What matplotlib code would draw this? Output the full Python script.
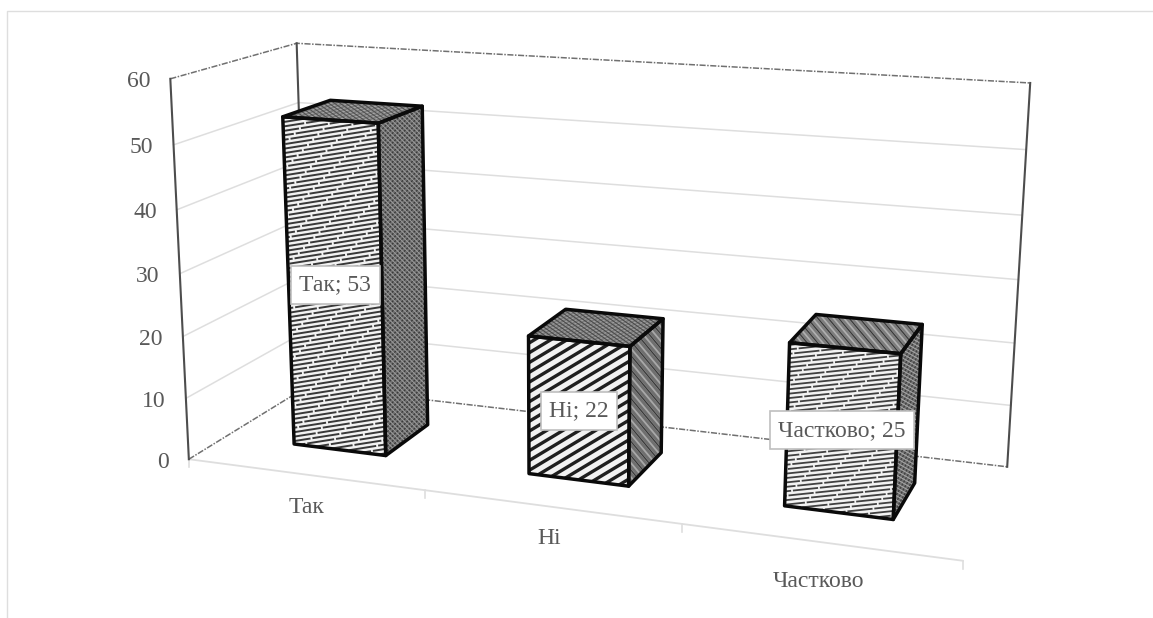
import numpy as np
import matplotlib
matplotlib.use("Agg")
import matplotlib.pyplot as plt
from matplotlib.patches import Polygon
from matplotlib.collections import LineCollection

plt.rcParams['font.family'] = ['Liberation Serif', 'DejaVu Serif']

categories = ['Так', 'Ні', 'Частково']
values = [53, 22, 25]
z_ticks = [0, 10, 20, 30, 40, 50, 60]
z_max = 60

GRID = '#dedede'
EDGE = '#4d4d4d'
TEXT = '#595959'
BAR_WIDTH = 0.4   # share of a category slot
BAR_DEPTH = 0.4   # share of the floor depth

# calibration of the box: (x, depth, height) -> pixel
box_world = [(0, 0, 0), (1/3, 0, 0), (2/3, 0, 0), (1, 0, 0), (0, 1, 0), (1, 1, 0),
             (0, 0, 1), (0, 1, 1), (1, 1, 1)]
box_pixel = [(190, 458), (426, 490), (681, 525), (962, 562), (306, 387), (1008, 465),
             (169, 78), (298, 44), (1030, 83)]
# how far each category name hangs below the floor line
label_drop = [33, 32, 40]
label_shift = [2, -1, 0]


def fit_camera(world, pixel):
    rows = []
    for (X, Y, Z), (px, py) in zip(world, pixel):
        rows.append([X, Y, Z, 1, 0, 0, 0, 0, -px*X, -px*Y, -px*Z, -px])
        rows.append([0, 0, 0, 0, X, Y, Z, 1, -py*X, -py*Y, -py*Z, -py])
    return np.linalg.svd(np.array(rows))[2][-1].reshape(3, 4)


cam = fit_camera(box_world, box_pixel)


def proj(x, d, z):
    p = cam @ np.array([x, d, z / z_max, 1.0])
    return p[0] / p[2], p[1] / p[2]


def hatch_face(ax, poly, angle, spacing, lw, color, zorder, dash=None):
    # straight hatch lines clipped to one bar face, dashes staggered line by line
    pts = np.array(poly)
    c = pts.mean(axis=0)
    r = np.ptp(pts, axis=0).sum()
    a = np.radians(angle)
    along = np.array([np.cos(a), -np.sin(a)])
    across = np.array([np.sin(a), np.cos(a)])
    offsets = np.arange(-r, r, spacing)
    segs = [[c + across*t - along*r, c + across*t + along*r] for t in offsets]
    if dash:
        styles = [(k * 2.7 % sum(dash), dash) for k in range(len(offsets))]
    else:
        styles = 'solid'
    lc = LineCollection(segs, colors=color, linewidths=lw, linestyles=styles, zorder=zorder)
    ax.add_collection(lc)
    clip = Polygon(poly, closed=True, transform=ax.transData, fc='none', ec='none')
    ax.add_patch(clip)
    lc.set_clip_path(clip)


front_styles = [
    [dict(angle=9, spacing=4.4, lw=1.4, color='#383838', dash=(14, 1))],
    [dict(angle=31, spacing=8.4, lw=2.4, color='#1f1f1f')],
    [dict(angle=6, spacing=4.4, lw=1.3, color='#404040', dash=(14, 1))],
]
side_styles = [
    [dict(angle=45, spacing=3.4, lw=0.9, color='#3a3a3a'), dict(angle=-45, spacing=3.4, lw=0.8, color='#9a9a9a')],
    [dict(angle=-50, spacing=4.6, lw=1.3, color='#a8a8a8'), dict(angle=-50, spacing=9.2, lw=1.0, color='#3a3a3a')],
    [dict(angle=60, spacing=3.4, lw=0.9, color='#3f3f3f'), dict(angle=-30, spacing=3.6, lw=0.8, color='#a5a5a5')],
]
top_styles = [
    [dict(angle=20, spacing=3.0, lw=0.8, color='#a8a8a8'), dict(angle=-35, spacing=3.2, lw=0.8, color='#505050')],
    [dict(angle=25, spacing=3.0, lw=0.8, color='#a0a0a0'), dict(angle=-35, spacing=3.2, lw=0.8, color='#4a4a4a')],
    [dict(angle=-50, spacing=4.0, lw=1.2, color='#b0b0b0'), dict(angle=-50, spacing=8.0, lw=1.0, color='#3a3a3a')],
]

fig = plt.figure(figsize=(11.53, 6.18), dpi=100)
ax = fig.add_axes([0, 0, 1, 1])
ax.set_xlim(0, 1153)
ax.set_ylim(618, 0)
ax.axis('off')

# outer chart border
ax.plot([7, 7, 1153], [618, 10.5, 10.5], color=GRID, lw=1, zorder=1)

# gridlines on the two walls
for z in z_ticks[1:-1]:
    line = [proj(0, 0, z), proj(0, 1, z), proj(1, 1, z)]
    ax.plot(*zip(*line), color=GRID, lw=1.1, zorder=2)

# wall edges
for z in (0, z_max):
    line = [proj(0, 0, z), proj(0, 1, z), proj(1, 1, z)]
    ax.plot(*zip(*line), color='#707070', lw=1.1, ls=(0, (4, 1, 1, 1)), zorder=3)
for x, d in [(0, 0), (0, 1), (1, 1)]:
    ax.plot(*zip(proj(x, d, 0), proj(x, d, z_max)), color=EDGE, lw=1.5, zorder=3)

# floor front line and its ticks
ax.plot(*zip(proj(0, 0, 0), proj(1, 0, 0)), color=GRID, lw=1.3, zorder=2)
for i in range(len(categories) + 1):
    tx, ty = proj(i / len(categories), 0, 0)
    ax.plot([tx, tx], [ty, ty + 8], color=GRID, lw=1.2, zorder=2)

# value axis labels
for z in z_ticks:
    tx, ty = proj(0, 0, z)
    ax.text(tx - 20, ty + 3, str(z), ha='right', va='center', fontsize=17, color=TEXT, zorder=6)

# category labels sit below the floor line
for i, name in enumerate(categories):
    tx, ty = proj((i + 0.5) / len(categories), 0, 0)
    ax.text(tx + label_shift[i], ty + label_drop[i], name, ha='center', va='center',
            fontsize=17, color=TEXT, zorder=6)

# bars: only the front, side and top faces can be seen
for i, (name, val) in enumerate(zip(categories, values)):
    slot = 1 / len(categories)
    x0 = (i + 0.5 - BAR_WIDTH / 2) * slot
    x1 = (i + 0.5 + BAR_WIDTH / 2) * slot
    d0 = 0.5 - BAR_DEPTH / 2
    d1 = 0.5 + BAR_DEPTH / 2
    front = [proj(x0, d0, 0), proj(x1, d0, 0), proj(x1, d0, val), proj(x0, d0, val)]
    side = [proj(x1, d0, 0), proj(x1, d1, 0), proj(x1, d1, val), proj(x1, d0, val)]
    top = [proj(x0, d0, val), proj(x1, d0, val), proj(x1, d1, val), proj(x0, d1, val)]
    faces = [(front, '#f2f2f2', front_styles[i]), (side, '#6f6f6f', side_styles[i]), (top, '#7d7d7d', top_styles[i])]
    for poly, fill, styles in faces:
        ax.add_patch(Polygon(poly, closed=True, fc=fill, ec='none', zorder=4))
        for st in styles:
            hatch_face(ax, poly, zorder=4.1, **st)
        ax.add_patch(Polygon(poly, closed=True, fc='none', ec='#0a0a0a', lw=2.5, joinstyle='round', zorder=4.5))

    # data label in the middle of the front face
    lx = np.mean([p[0] for p in front])
    ly = np.mean([p[1] for p in front])
    ax.text(lx, ly, f'{name}; {val}', ha='center', va='center', fontsize=17, color=TEXT, zorder=7,
            bbox=dict(boxstyle='square,pad=0.36', fc='white', ec='#bfbfbf', lw=1.2))

fig.savefig('out.png', dpi=100)
